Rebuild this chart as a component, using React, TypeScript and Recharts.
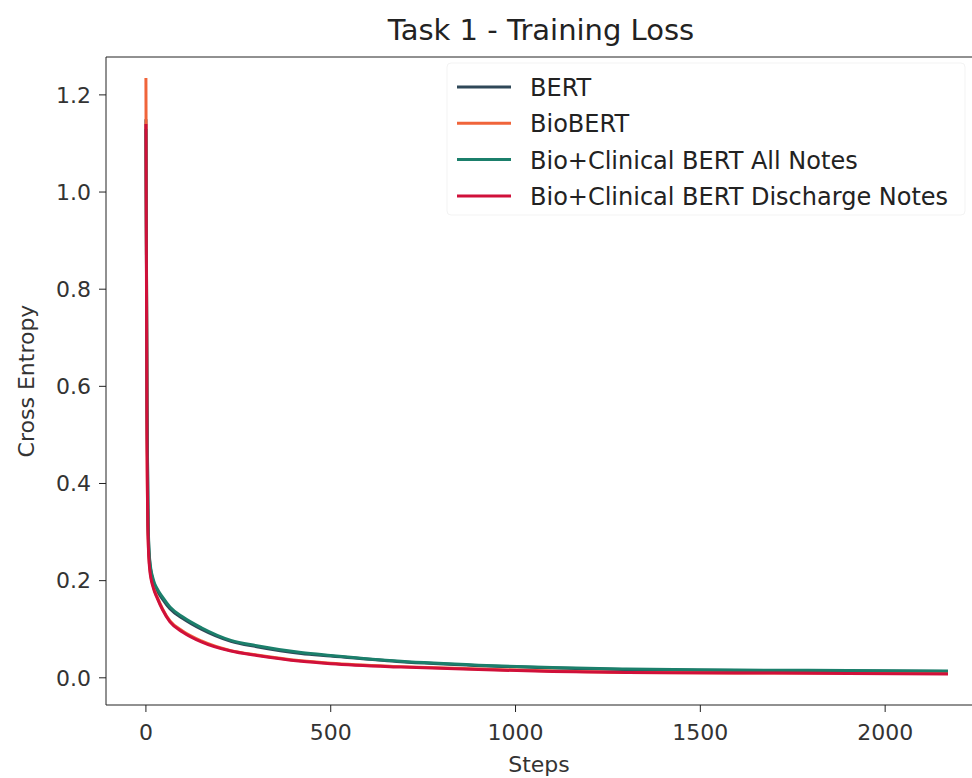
import React from 'react';
import { LineChart, Line, XAxis, YAxis, ReferenceLine } from 'recharts';

const steps = [0, 3, 6, 10, 20, 30, 45, 65, 100, 150, 230, 300, 420, 500, 690, 900, 1100, 1300, 1600, 1900, 2170];
const bert = [1.15, 0.55, 0.31, 0.24, 0.198, 0.18, 0.162, 0.142, 0.122, 0.1, 0.075, 0.064, 0.05, 0.045, 0.033, 0.025, 0.020, 0.017, 0.015, 0.014, 0.013];
const bioBert = [1.235, 0.50, 0.29, 0.23, 0.188, 0.167, 0.142, 0.117, 0.096, 0.076, 0.056, 0.047, 0.035, 0.030, 0.023, 0.018, 0.014, 0.011, 0.010, 0.010, 0.009];
const allNotes = [1.13, 0.56, 0.32, 0.245, 0.202, 0.184, 0.166, 0.146, 0.125, 0.103, 0.077, 0.066, 0.052, 0.046, 0.034, 0.026, 0.021, 0.018, 0.016, 0.015, 0.014];
const discharge = [1.14, 0.49, 0.285, 0.225, 0.185, 0.165, 0.14, 0.115, 0.094, 0.074, 0.055, 0.046, 0.034, 0.029, 0.022, 0.017, 0.013, 0.011, 0.010, 0.009, 0.008];
const xTicks = [0, 500, 1000, 1500, 2000];
const yTicks = [0, 0.2, 0.4, 0.6, 0.8, 1.0, 1.2];

const series = [
  { key: 'bert', name: 'BERT', color: '#2f4858' },
  { key: 'bioBert', name: 'BioBERT', color: '#f0643a' },
  { key: 'allNotes', name: 'Bio+Clinical BERT All Notes', color: '#1b7f6b' },
  { key: 'discharge', name: 'Bio+Clinical BERT Discharge Notes', color: '#d0103a' },
];

const data = steps.map((s, i) => ({
  step: s,
  bert: bert[i],
  bioBert: bioBert[i],
  allNotes: allNotes[i],
  discharge: discharge[i],
}));

const FONT = '"DejaVu Sans", sans-serif';

export default function App() {
  return (
    <div style={{ position: 'absolute', left: 0, top: 0, width: 972, height: 778, background: '#fff', overflow: 'hidden' }}>
      <LineChart width={972} height={778} data={data} margin={{ top: 57, right: 0, bottom: 0, left: 0 }}>
        <XAxis
          dataKey="step"
          type="number"
          domain={[-108, 2235]}
          ticks={xTicks}
          allowDataOverflow
          height={73}
          tickSize={7}
          tickMargin={12}
          stroke="#222"
          tick={{ fill: '#333', fontSize: 22, fontFamily: FONT }}
          label={{ value: 'Steps', position: 'insideBottom', offset: 6, fill: '#333', fontSize: 22, fontFamily: FONT }}
        />
        <YAxis
          type="number"
          domain={[-0.056, 1.278]}
          ticks={yTicks}
          allowDataOverflow
          width={106}
          tickSize={7}
          tickMargin={8}
          stroke="#222"
          tickFormatter={(v: number) => v.toFixed(1)}
          tick={{ fill: '#333', fontSize: 22, fontFamily: FONT }}
          label={{ value: 'Cross Entropy', angle: -90, position: 'insideLeft', offset: 26, fill: '#333', fontSize: 22, fontFamily: FONT, style: { textAnchor: 'middle' } }}
        />
        <ReferenceLine y={1.278} stroke="#222" strokeWidth={1} ifOverflow="visible" />
        {series.map((s) => (
          <Line
            key={s.key}
            dataKey={s.key}
            name={s.name}
            type="monotone"
            stroke={s.color}
            strokeWidth={3}
            dot={false}
            isAnimationActive={false}
          />
        ))}
      </LineChart>
      <svg
        width={972}
        height={778}
        style={{ position: 'absolute', left: 0, top: 0, pointerEvents: 'none' }}
      >
        <text x={541} y={40} textAnchor="middle" fontFamily={FONT} fontSize={29} fill="#222">
          Task 1 - Training Loss
        </text>
        <rect x={447} y={63} width={518} height={152} rx={4} fill="rgba(255,255,255,0.85)" stroke="#f3f3f3" />
        {series.map((s, i) => {
          const cy = 87 + i * 36.3;
          return (
            <g key={s.key}>
              <line x1={457} x2={511} y1={cy} y2={cy} stroke={s.color} strokeWidth={3} />
              <text x={530} y={cy + 9} fontFamily={FONT} fontSize={24} fill="#222">
                {s.name}
              </text>
            </g>
          );
        })}
      </svg>
    </div>
  );
}
